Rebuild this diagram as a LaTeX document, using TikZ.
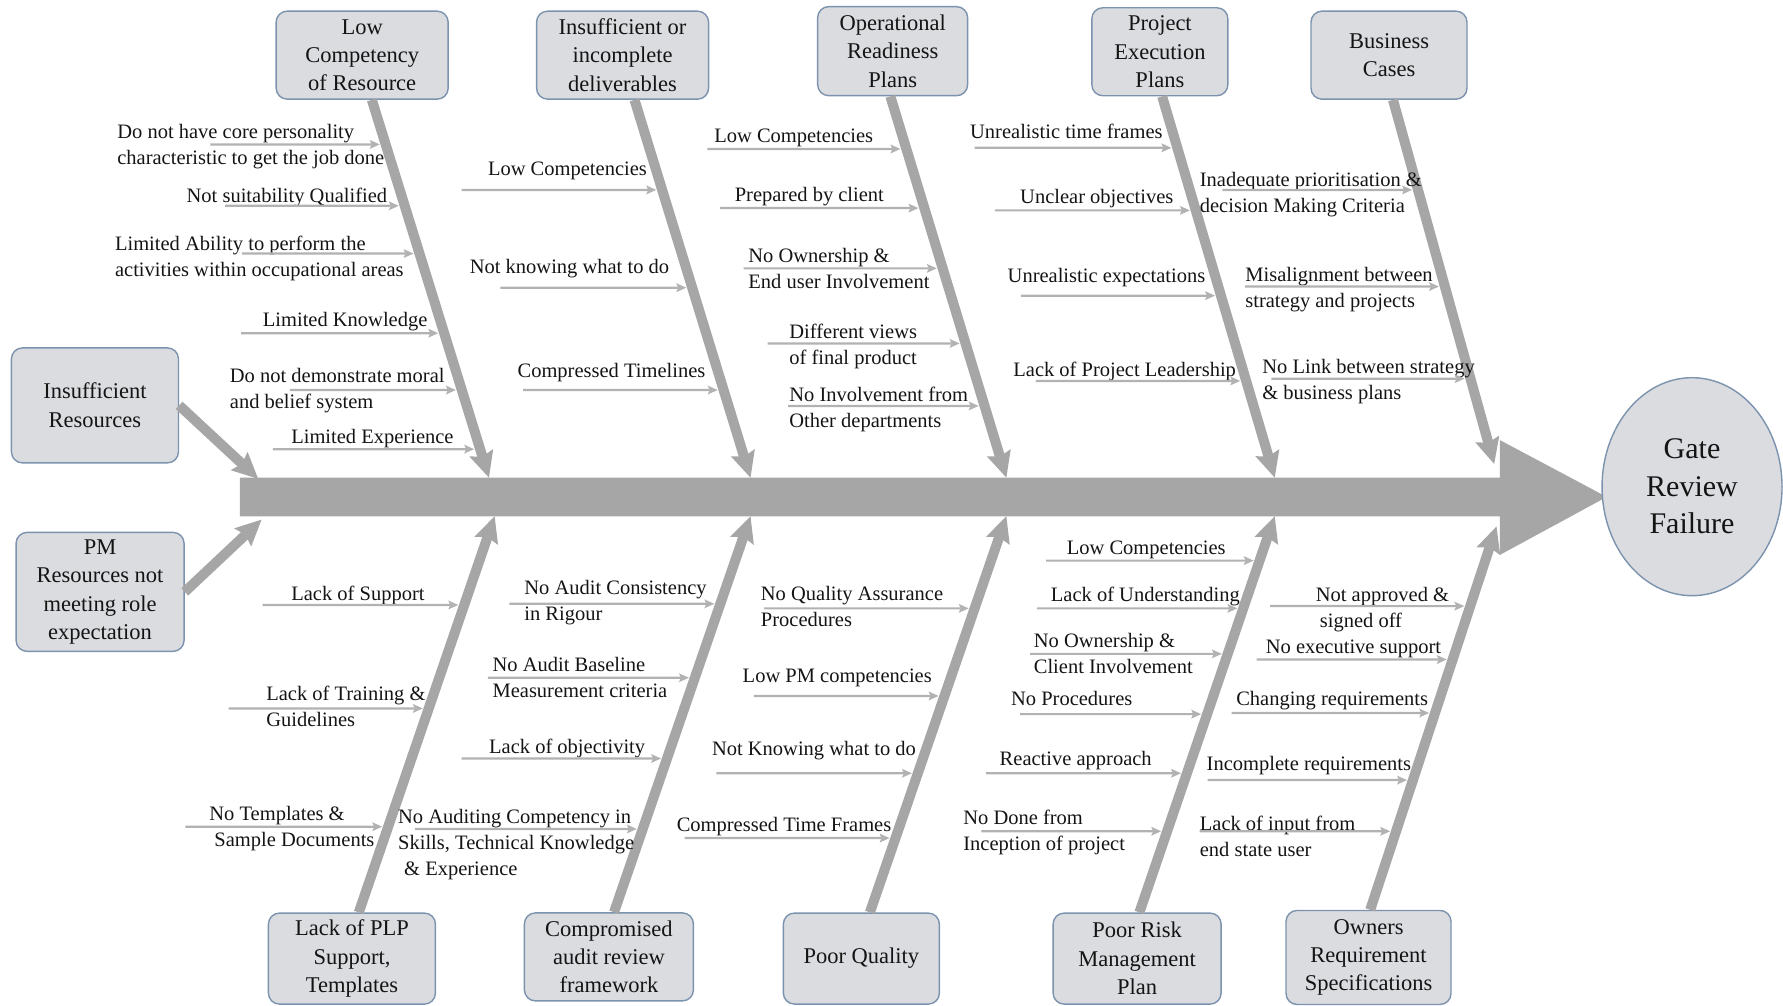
\documentclass[tikz,border=0pt]{standalone}
\usepackage{fontspec}
\setmainfont{Liberation Serif}
\usetikzlibrary{arrows.meta,calc,shapes.geometric}

\definecolor{bone}{HTML}{A6A6A6}
\definecolor{twig}{HTML}{B2B2B2}
\definecolor{boxfill}{HTML}{DADCDF}
\definecolor{boxline}{HTML}{7B93AE}
\definecolor{ink}{HTML}{141414}

\tikzset{
  cause/.style={draw=boxline, line width=1.4pt, fill=boxfill, rounded corners=11pt,
    align=center, text=ink, inner sep=0pt, font=\fontsize{22.5}{28.4}\selectfont},
  effect/.style={ellipse, draw=boxline, line width=1.4pt, fill=boxfill,
    align=center, text=ink, inner sep=0pt, font=\fontsize{30}{37.5}\selectfont},
  lbl/.style={anchor=north west, align=left, inner sep=0pt, text=ink,
    font=\fontsize{20.5}{26}\selectfont},
  boneline/.style={draw=bone, line width=10pt,
    -{Stealth[length=26pt,width=25pt,inset=4pt,line width=0pt]}},
  twigline/.style={draw=twig, line width=2.2pt, shorten >=6pt,
    -{Stealth[length=10pt,width=9pt,inset=2pt,line width=0pt]}},
}

% one sub-cause: id, bone start, bone tip, twig start, label position, label text
\newcommand\branchitem[6]{%
  \node[lbl] (#1t) at (#5) {#6};
  \coordinate (#1s) at (#4);
  \coordinate (#1h) at ($(#1s)+(100,0)$);
  \coordinate (#1e) at (intersection of #2--#3 and #1s--#1h);
  \draw[twigline] (#1s) -- (#1e);
}

\begin{document}
\begin{tikzpicture}[x=1.1371pt, y=-1.1371pt]
\useasboundingbox (0,0) rectangle (1568,884);

% spine with its head
\fill[bone] (211,420) -- (1319,420) -- (1319,387) -- (1413,437)
  -- (1319,488) -- (1319,454) -- (211,454) -- cycle;

% category boxes
\node[cause, minimum width=172pt, minimum height=88pt] (lowcomp) at (318.5,48.5) {Low\\Competency\\of Resource};
\node[cause, minimum width=172pt, minimum height=88pt] (insdel) at (547.5,48.5) {Insufficient or\\incomplete\\deliverables};
\node[cause, minimum width=150pt, minimum height=89pt] (opready) at (785,45) {Operational\\Readiness\\Plans};
\node[cause, minimum width=136pt, minimum height=88pt] (projexec) at (1020,45.5) {Project\\Execution\\Plans};
\node[cause, minimum width=156pt, minimum height=88pt] (bizcase) at (1221.5,48.5) {Business\\Cases};

\node[cause, minimum width=167pt, minimum height=115pt] (insres) at (83.5,356.5) {Insufficient\\Resources};
\node[cause, minimum width=168pt, minimum height=119pt] (pmres) at (88,520.5) {PM\\Resources not\\meeting role\\expectation};

\node[cause, minimum width=167pt, minimum height=91pt] (lackplp) at (309.5,843) {Lack of PLP\\Support,\\Templates};
\node[cause, minimum width=169pt, minimum height=88pt] (audit) at (535.5,841.5) {Compromised\\audit review\\framework};
\node[cause, minimum width=156pt, minimum height=91pt] (quality) at (757.5,843) {Poor Quality};
\node[cause, minimum width=168pt, minimum height=91pt] (risk) at (1000,843) {Poor Risk\\Management\\Plan};
\node[cause, minimum width=165pt, minimum height=94pt] (owners) at (1203.5,842) {Owners\\Requirement\\Specifications};

\node[effect, minimum width=180pt, minimum height=218pt] (gate) at (1488,428) {Gate\\Review\\Failure};

% bone ends on the spine
\coordinate (t1) at (430,420);
\coordinate (t2) at (660,420);
\coordinate (t3) at (885,420);
\coordinate (t4) at (1121,420);
\coordinate (t5) at (1314,408);
\coordinate (t6) at (227,421);
\coordinate (t7) at (230,457);
\coordinate (t8) at (435,454);
\coordinate (t9) at (660,454);
\coordinate (t10) at (885,454);
\coordinate (t11) at (1121,454);
\coordinate (t12) at (1316,463);

% bone starts on the boxes
\coordinate (s1) at ($(lowcomp.south)+(8.5,0)$);
\coordinate (s2) at ($(insdel.south)+(10.5,0)$);
\coordinate (s3) at ($(opready.south)+(-2,0)$);
\coordinate (s4) at ($(projexec.south)+(2,0)$);
\coordinate (s5) at ($(bizcase.south)+(3.5,0)$);
\coordinate (s8) at ($(lackplp.north)+(6,0)$);
\coordinate (s9) at ($(audit.north)+(4.5,0)$);
\coordinate (s10) at ($(quality.north)+(7.5,0)$);
\coordinate (s11) at ($(risk.north)+(2,0)$);
\coordinate (s12) at ($(owners.north)+(1.5,0)$);

\foreach \k in {1,2,3,4,5,8,9,10,11,12} {\draw[boneline] (s\k) -- (t\k);}
\draw[boneline] (insres.east) -- (t6);
\draw[boneline] (pmres.east) -- (t7);

% Low Competency of Resource
\branchitem{a1}{s1}{t1}{185,127}{103,109.5}{Do not have core personality\\characteristic to get the job done}
\branchitem{b1}{s1}{t1}{198,181}{164,165.5}{Not suitability Qualified}
\branchitem{c1}{s1}{t1}{213,223}{101,207.5}{Limited Ability to perform the\\activities within occupational areas}
\branchitem{d1}{s1}{t1}{212,293}{231,274.5}{Limited Knowledge}
\branchitem{e1}{s1}{t1}{255,343}{202,323.5}{Do not demonstrate moral\\and belief system}
\branchitem{f1}{s1}{t1}{240,395}{256,377.5}{Limited Experience}

% Insufficient or incomplete deliverables
\branchitem{a2}{s2}{t2}{406,167}{429,142.5}{Low Competencies}
\branchitem{b2}{s2}{t2}{440,253}{413,227.5}{Not knowing what to do}
\branchitem{c2}{s2}{t2}{460,343}{455,319.5}{Compressed Timelines}

% Operational Readiness Plans
\branchitem{a3}{s3}{t3}{622,131}{628,113.5}{Low Competencies}
\branchitem{b3}{s3}{t3}{633,183}{646,164.5}{Prepared by client}
\branchitem{c3}{s3}{t3}{654,236}{658,218.5}{No Ownership \&\\End user Involvement}
\branchitem{d3}{s3}{t3}{675,302}{694,284.5}{Different views\\of final product}
\branchitem{e3}{s3}{t3}{693,357}{694,340.5}{No Involvement from\\Other departments}

% Project Execution Plans
\branchitem{a4}{s4}{t4}{857,130}{853,108.5}{Unrealistic time frames}
\branchitem{b4}{s4}{t4}{875,185}{897,166.5}{Unclear objectives}
\branchitem{c4}{s4}{t4}{898,260}{886,235.5}{Unrealistic expectations}
\branchitem{d4}{s4}{t4}{911,335}{891,318.5}{Lack of Project Leadership}

% Business Cases
\branchitem{a5}{s5}{t5}{1075,167}{1055,151.5}{Inadequate prioritisation \&\\decision Making Criteria}
\branchitem{b5}{s5}{t5}{1095,252}{1095,234.5}{Misalignment between\\strategy and projects}
\branchitem{c5}{s5}{t5}{1118,333}{1110,315.5}{No Link between strategy\\\& business plans}

% Lack of PLP Support, Templates
\branchitem{a8}{s8}{t8}{231,532}{256,515.5}{Lack of Support}
\branchitem{b8}{s8}{t8}{201,623}{234,603.5}{Lack of Training \&\\Guidelines}
\branchitem{c8}{s8}{t8}{163,727}{184,708.5}{No Templates \&\\\hspace*{5pt}Sample Documents}

% Compromised audit review framework
\branchitem{a9}{s9}{t9}{448,531}{461,510.5}{No Audit Consistency\\in Rigour}
\branchitem{b9}{s9}{t9}{429,596}{433,577.5}{No Audit Baseline\\Measurement criteria}
\branchitem{c9}{s9}{t9}{406,667}{430,649.5}{Lack of objectivity}
\branchitem{d9}{s9}{t9}{365,729}{350,711.5}{No Auditing Competency in\\Skills, Technical Knowledge\\\hspace*{6pt}\& Experience}

% Poor Quality
\branchitem{a10}{s10}{t10}{672,535}{669,515.5}{No Quality Assurance\\Procedures}
\branchitem{b10}{s10}{t10}{663,612}{653,588.5}{Low PM competencies}
\branchitem{c10}{s10}{t10}{630,680}{626,651.5}{Not Knowing what to do}
\branchitem{d10}{s10}{t10}{602,737}{595,718.5}{Compressed Time Frames}

% Poor Risk Management Plan
\branchitem{a11}{s11}{t11}{920,493}{938,475.5}{Low Competencies}
\branchitem{b11}{s11}{t11}{912,535}{924,516.5}{Lack of Understanding}
\branchitem{c11}{s11}{t11}{906,575}{909,556.5}{No Ownership \&\\Client Involvement}
\branchitem{d11}{s11}{t11}{897,628}{889,607.5}{No Procedures}
\branchitem{e11}{s11}{t11}{867,680}{879,660.5}{Reactive approach}
\branchitem{f11}{s11}{t11}{863,731}{847,712.5}{No Done from\\Inception of project}

% Owners Requirement Specifications
\branchitem{a12}{s12}{t12}{1117,533}{1157,516.5}{Not approved \&\\\hspace*{4pt}signed off}
\branchitem{b12}{s12}{t12}{1105,580}{1113,562.5}{No executive support}
\branchitem{c12}{s12}{t12}{1083,627}{1087,607.5}{Changing requirements}
\branchitem{d12}{s12}{t12}{1062,686}{1061,664.5}{Incomplete requirements}
\branchitem{e12}{s12}{t12}{1055,731}{1055,717.5}{Lack of input from\\end state user}

\end{tikzpicture}
\end{document}
